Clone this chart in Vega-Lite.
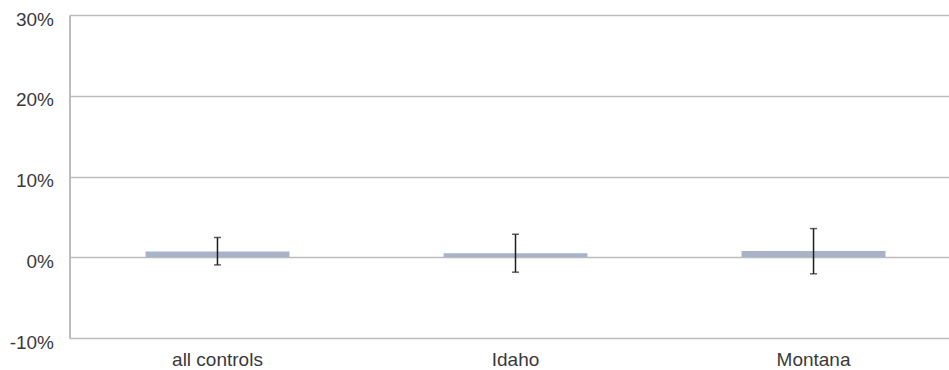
{
  "$schema": "https://vega.github.io/schema/vega-lite/v6.json",
  "autosize": "none",
  "padding": {"left": 69.5, "top": 15, "right": 0, "bottom": 32},
  "width": 892,
  "height": 323,
  "background": "white",
  "config": {
    "view": {"stroke": null},
    "font": "Liberation Sans, Arial, sans-serif",
    "axis": {
      "labelFont": "Liberation Sans, Arial, sans-serif",
      "labelFontSize": 19,
      "labelColor": "#3a3a3a",
      "ticks": false
    }
  },
  "data": {
    "values": [
      {"group": "all controls", "estimate": 0.7, "lo": -0.95, "hi": 2.45},
      {"group": "Idaho", "estimate": 0.5, "lo": -1.85, "hi": 2.85},
      {"group": "Montana", "estimate": 0.78, "lo": -2.05, "hi": 3.55}
    ]
  },
  "encoding": {
    "x": {
      "field": "group",
      "type": "nominal",
      "sort": null,
      "title": null,
      "scale": {"paddingInner": 0.517, "paddingOuter": 0.255},
      "axis": {
        "title": null,
        "domain": false,
        "labelAngle": 0,
        "labelPadding": 12,
        "labelBaseline": "top"
      }
    }
  },
  "layer": [
    {
      "mark": {"type": "bar", "color": "#a9b3c8"},
      "encoding": {
        "y": {
          "field": "estimate",
          "type": "quantitative",
          "title": null,
          "scale": {"domain": [-10, 30], "nice": false, "zero": false},
          "axis": {
            "title": null,
            "values": [-10, 0, 10, 20, 30],
            "labelExpr": "datum.value + '%'",
            "labelPadding": 16,
            "labelOffset": 4,
            "grid": true,
            "gridColor": "#bcbcbc",
            "gridWidth": 1.5,
            "domain": true,
            "domainColor": "#bcbcbc",
            "domainWidth": 2
          }
        },
        "y2": {"datum": 0}
      }
    },
    {
      "mark": {
        "type": "errorbar",
        "color": "#1e1e1e",
        "thickness": 1.5,
        "ticks": {"size": 7, "thickness": 1.5, "color": "#1e1e1e"}
      },
      "encoding": {
        "y": {"field": "lo", "type": "quantitative", "title": null},
        "y2": {"field": "hi"}
      }
    }
  ]
}
